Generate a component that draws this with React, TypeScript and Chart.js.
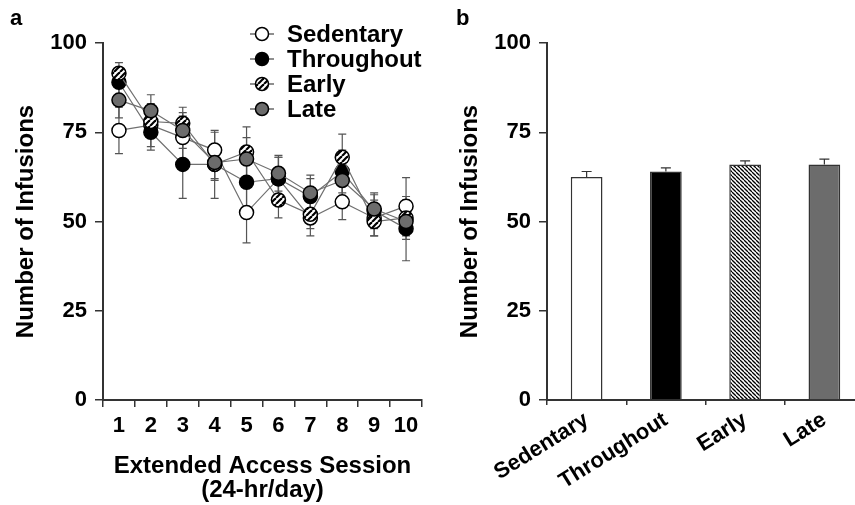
import React, { useEffect, useRef } from 'react';
import { Chart, registerables } from 'chart.js';
Chart.register(...registerables);

const sessions = ['1', '2', '3', '4', '5', '6', '7', '8', '9', '10'];
const sedentaryMean = [75.5, 77, 73.5, 70, 52.5, 62, 51, 55.5, 51, 54.3];
const sedentaryErr = [6.5, 6, 6, 5, 8.5, 6, 5, 5, 5, 8];
const throughoutMean = [89, 75, 66, 66, 61, 62, 57, 64, 53, 48];
const throughoutErr = [4, 5, 9.5, 9.5, 8, 6, 5, 6, 5, 9];
const earlyMean = [91.5, 78, 77.5, 66, 69.5, 56, 52, 68, 50, 51];
const earlyErr = [3, 4, 4.5, 4, 7, 5, 4, 6.5, 4, 5];
const lateMean = [84, 81, 75.5, 66.5, 67.5, 63.5, 58, 61.5, 53.5, 50];
const lateErr = [5, 4.5, 5, 5, 6, 5, 5, 5, 4, 5];

const groups = ['Sedentary', 'Throughout', 'Early', 'Late'];
const totalMean = [62.5, 64, 66, 66];
const totalErr = [1.5, 1, 1, 1.5];

const yMin = 0;
const yMax = 100;
const yStep = 25;

const FONT = '"Liberation Sans", Arial, Helvetica, sans-serif';

function hatch(size: number, width: number, dir: 'slash' | 'back'): CanvasPattern | string {
  const c = document.createElement('canvas');
  c.width = size;
  c.height = size;
  const g = c.getContext('2d');
  if (!g) return '#fff';
  g.fillStyle = '#fff';
  g.fillRect(0, 0, size, size);
  g.strokeStyle = '#000';
  g.lineWidth = width;
  for (const x0 of [-size, 0, size]) {
    g.beginPath();
    if (dir === 'slash') {
      g.moveTo(x0, size);
      g.lineTo(x0 + size, 0);
    } else {
      g.moveTo(x0, 0);
      g.lineTo(x0 + size, size);
    }
    g.stroke();
  }
  const p = g.createPattern(c, 'repeat');
  return p || '#fff';
}

const errorBarPlugin = {
  id: 'errorBars',
  beforeDatasetsDraw(chart: any, _args: any, opts: any) {
    const ctx = chart.ctx;
    const y = chart.scales.y;
    ctx.save();
    ctx.strokeStyle = opts.color || '#555';
    ctx.lineWidth = opts.width || 1.2;
    chart.data.datasets.forEach((ds: any, i: number) => {
      if (!ds.errors) return;
      const meta = chart.getDatasetMeta(i);
      meta.data.forEach((el: any, j: number) => {
        const v = ds.data[j];
        const e = ds.errors[j];
        const x = el.x;
        const top = y.getPixelForValue(v + e);
        const bot = opts.upperOnly ? y.getPixelForValue(v) : y.getPixelForValue(v - e);
        const cap = opts.cap || 4;
        ctx.beginPath();
        ctx.moveTo(x, top);
        ctx.lineTo(x, bot);
        ctx.moveTo(x - cap, top);
        ctx.lineTo(x + cap, top);
        if (!opts.upperOnly) {
          ctx.moveTo(x - cap, bot);
          ctx.lineTo(x + cap, bot);
        }
        ctx.stroke();
      });
    });
    ctx.restore();
  },
};

const panelLabelPlugin = {
  id: 'panelLabel',
  afterDraw(chart: any, _args: any, opts: any) {
    const ctx = chart.ctx;
    ctx.save();
    ctx.fillStyle = '#000';
    ctx.font = `bold 22px ${FONT}`;
    ctx.textBaseline = 'middle';
    ctx.textAlign = 'left';
    ctx.fillText(opts.text, opts.x, opts.y);
    ctx.restore();
  },
};

const legendPlugin = {
  id: 'customLegend',
  afterDraw(chart: any, _args: any, opts: any) {
    if (!opts || !opts.show) return;
    const ctx = chart.ctx;
    ctx.save();
    chart.data.datasets.forEach((ds: any, i: number) => {
      const cy = opts.y + i * opts.gap;
      const cx = opts.x;
      ctx.strokeStyle = '#444';
      ctx.lineWidth = 1.2;
      ctx.beginPath();
      ctx.moveTo(cx - 12, cy);
      ctx.lineTo(cx + 12, cy);
      ctx.stroke();
      ctx.beginPath();
      ctx.arc(cx, cy, 6.5, 0, Math.PI * 2);
      ctx.fillStyle = ds.pointBackgroundColor;
      ctx.fill();
      ctx.strokeStyle = '#000';
      ctx.lineWidth = 1.5;
      ctx.stroke();
      ctx.fillStyle = '#000';
      ctx.font = `bold 24px ${FONT}`;
      ctx.textBaseline = 'middle';
      ctx.textAlign = 'left';
      ctx.fillText(ds.label, cx + 25, cy + 1);
    });
    ctx.restore();
  },
};

function yScale(width: number) {
  return {
    min: yMin,
    max: yMax,
    afterFit(scale: any) {
      scale.width = width;
    },
    ticks: {
      stepSize: yStep,
      color: '#000',
      font: { family: FONT, size: 22, weight: 'bold' as const },
      padding: 8,
    },
    grid: {
      drawOnChartArea: false,
      drawTicks: true,
      tickLength: 8,
      color: '#333',
      lineWidth: 1.5,
    },
    border: { display: true, color: '#333', width: 2 },
    title: {
      display: true,
      text: 'Number of Infusions',
      color: '#000',
      font: { family: FONT, size: 24, weight: 'bold' as const, lineHeight: 1.0 },
      padding: { top: 4, bottom: 0 },
    },
  };
}

export default function App() {
  const leftRef = useRef<HTMLCanvasElement>(null);
  const rightRef = useRef<HTMLCanvasElement>(null);

  useEffect(() => {
    if (!leftRef.current || !rightRef.current) return;
    const earlyMarker = hatch(6, 2.2, 'slash');
    const earlyBar = hatch(4, 1.3, 'back');
    const lateGray = '#6c6c6c';

    const mk = (label: string, data: number[], errors: number[], fill: any, order: number) => ({
      label,
      data,
      errors,
      order,
      borderColor: '#707070',
      borderWidth: 1.2,
      pointRadius: 7,
      pointBorderWidth: 1.5,
      pointBorderColor: '#000',
      pointBackgroundColor: fill,
      fill: false,
      tension: 0,
    });

    const left = new Chart(leftRef.current, {
      type: 'line',
      data: {
        labels: sessions,
        datasets: [
          mk('Sedentary', sedentaryMean, sedentaryErr, '#ffffff', 3),
          mk('Throughout', throughoutMean, throughoutErr, '#000000', 2),
          mk('Early', earlyMean, earlyErr, earlyMarker, 1),
          mk('Late', lateMean, lateErr, lateGray, 0),
        ] as any,
      },
      options: {
        animation: false,
        responsive: false,
        layout: { padding: { left: 10, top: 43, right: 18, bottom: 0 } },
        plugins: {
          legend: { display: false },
          tooltip: { enabled: false },
          errorBars: { color: '#555', width: 1.2, cap: 4 },
          panelLabel: { text: 'a', x: 10, y: 19 },
          customLegend: { show: true, x: 262, y: 34, gap: 25 },
        } as any,
        scales: {
          x: {
            type: 'category',
            offset: true,
            afterFit(scale: any) {
              scale.height = 105;
            },
            ticks: {
              color: '#000',
              font: { family: FONT, size: 22, weight: 'bold' as const },
              padding: 6,
              maxRotation: 0,
              minRotation: 0,
              autoSkip: false,
            },
            grid: {
              offset: true,
              drawOnChartArea: false,
              drawTicks: true,
              tickLength: 7,
              color: '#333',
              lineWidth: 1.5,
            },
            border: { display: true, color: '#333', width: 2 },
            title: {
              display: true,
              text: ['Extended Access Session', '(24-hr/day)'],
              color: '#000',
              font: { family: FONT, size: 24, weight: 'bold' as const, lineHeight: 1.0 },
              padding: { top: 0, bottom: 3 },
            },
          },
          y: yScale(93) as any,
        },
      },
      plugins: [errorBarPlugin, panelLabelPlugin, legendPlugin],
    });

    const right = new Chart(rightRef.current, {
      type: 'bar',
      data: {
        labels: groups,
        datasets: [
          {
            label: 'Total',
            data: totalMean,
            errors: totalErr,
            backgroundColor: ['#ffffff', '#000000', earlyBar, lateGray],
            borderColor: '#333',
            borderWidth: 1.5,
            categoryPercentage: 0.8,
            barPercentage: 0.5,
          } as any,
        ],
      },
      options: {
        animation: false,
        responsive: false,
        layout: { padding: { left: 14, top: 43, right: 16, bottom: 0 } },
        plugins: {
          legend: { display: false },
          tooltip: { enabled: false },
          errorBars: { color: '#333', width: 1.2, cap: 5, upperOnly: true },
          panelLabel: { text: 'b', x: 16, y: 19 },
          customLegend: { show: false },
        } as any,
        scales: {
          x: {
            type: 'category',
            afterFit(scale: any) {
              scale.height = 105;
            },
            ticks: {
              color: '#000',
              font: { family: FONT, size: 22, weight: 'bold' as const },
              padding: 2,
              maxRotation: 32,
              minRotation: 32,
              autoSkip: false,
            },
            grid: {
              offset: true,
              drawOnChartArea: false,
              drawTicks: true,
              tickLength: 5,
              color: '#333',
              lineWidth: 1.5,
            },
            border: { display: true, color: '#333', width: 2 },
          },
          y: yScale(93) as any,
        },
      },
      plugins: [errorBarPlugin, panelLabelPlugin],
    });

    return () => {
      left.destroy();
      right.destroy();
    };
  }, []);

  return (
    <div
      style={{
        position: 'fixed',
        left: 0,
        top: 0,
        width: 855,
        height: 505,
        overflow: 'hidden',
        background: '#fff',
      }}
    >
      <canvas
        ref={leftRef}
        width={440}
        height={505}
        style={{ position: 'absolute', left: 0, top: 0, width: 440, height: 505 }}
      />
      <canvas
        ref={rightRef}
        width={440}
        height={505}
        style={{ position: 'absolute', left: 440, top: 0, width: 440, height: 505 }}
      />
    </div>
  );
}
